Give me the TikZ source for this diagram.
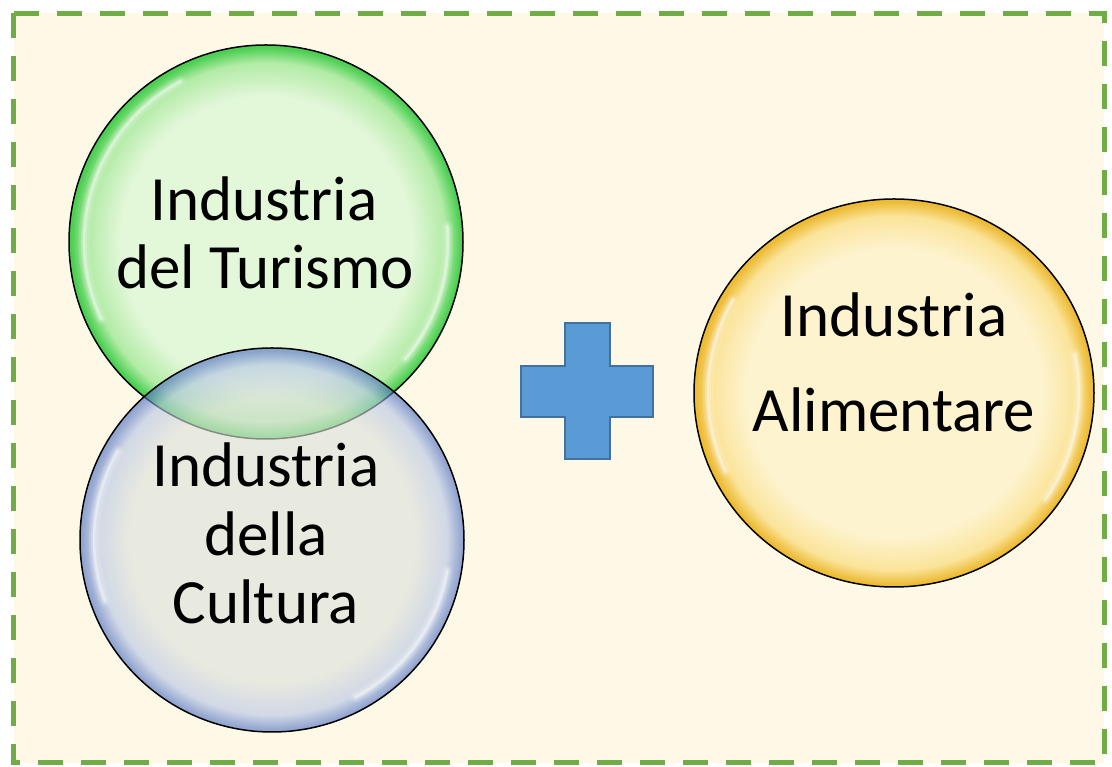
\documentclass[tikz,border=0pt]{standalone}
\usepackage{fontspec}
\setmainfont{Carlito}
\usetikzlibrary{shapes.geometric,calc}

\definecolor{cream}{HTML}{FEF9E7}
\definecolor{framegreen}{HTML}{70AD47}
\definecolor{plusfill}{HTML}{5B9BD5}
\definecolor{plusline}{HTML}{41719C}

\definecolor{gIn}{HTML}{E3F7D9}
\definecolor{gMid}{HTML}{B2EBA6}
\definecolor{gEdge}{HTML}{4CCF52}
\definecolor{bIn}{HTML}{DCE0DB}
\definecolor{bMid}{HTML}{B5C5E6}
\definecolor{bEdge}{HTML}{5172C4}
\definecolor{yIn}{HTML}{FDF3CF}
\definecolor{yMid}{HTML}{FBE49A}
\definecolor{yEdge}{HTML}{EDBB35}

% glassy discs: pale centre, saturated rim (edge of the path sits at 25bp)
\pgfdeclareradialshading{greenglass}{\pgfpoint{0bp}{0bp}}{color(0bp)=(gIn); color(18.5bp)=(gIn); color(22.8bp)=(gMid); color(24.7bp)=(gEdge); color(50bp)=(gEdge)}
\pgfdeclareradialshading{blueglass}{\pgfpoint{0bp}{0bp}}{color(0bp)=(bIn); color(18.5bp)=(bIn); color(22.8bp)=(bMid); color(24.7bp)=(bEdge); color(50bp)=(bEdge)}
\pgfdeclareradialshading{yellowglass}{\pgfpoint{0bp}{0bp}}{color(0bp)=(yIn); color(18.5bp)=(yIn); color(22.8bp)=(yMid); color(24.7bp)=(yEdge); color(50bp)=(yEdge)}

\tikzset{
  x=1pt, y=1pt,
  disc/.style={circle, draw=black, line width=1.5pt, inner sep=0pt},
  oval/.style={ellipse, draw=black, line width=1.5pt, inner sep=0pt},
  label/.style={anchor=base, inner sep=0pt, font=\fontsize{63}{68}\selectfont},
  glosswide/.style={white, line width=11pt, line cap=round, opacity=0.14},
  gloss/.style={white, line width=6pt, line cap=round, opacity=0.22},
  glossthin/.style={white, line width=2.5pt, line cap=round, opacity=0.4},
  plusshape/.style={fill=plusfill, draw=plusline, line width=2.5pt, line join=miter},
  frameline/.style={draw=framegreen, line width=5pt, dash pattern=on 25pt off 18pt, fill=cream}
}

\begin{document}
\begin{tikzpicture}
\useasboundingbox (0,0) rectangle (1112,767);

% dashed frame on a cream ground
\path[frameline] (13.5,753.5) -- (1104,753.5) -- (1104,4) -- (13.5,4) -- cycle;

% green disc
\node[disc, minimum size=394pt, shading=greenglass] (turismo) at (266,525) {};
\foreach \st in {glosswide,gloss,glossthin}{
  \draw[\st] ([shift={(205:182)}]turismo.center) arc (205:118:182);
  \draw[\st] ([shift={(-40:182)}]turismo.center) arc (-40:5:182);
}

% blue disc, partly see-through over the green one
\node[disc, minimum size=384pt, shading=blueglass, fill opacity=0.62] (cultura) at (272,227) {};
\foreach \st in {glosswide,gloss,glossthin}{
  \draw[\st] ([shift={(200:178)}]cultura.center) arc (200:150:178);
  \draw[\st] ([shift={(-10:178)}]cultura.center) arc (-10:-62:178);
}

% yellow disc
\node[oval, minimum width=400pt, minimum height=388pt, shading=yellowglass] (alimentare) at (894,374) {};
\foreach \st in {glosswide,gloss,glossthin}{
  \draw[\st] ([shift={(205:186)}]alimentare.center) arc (205:150:186);
  \draw[\st] ([shift={(-35:185)}]alimentare.center) arc (-35:12:185);
}

% plus sign
\coordinate (plus) at (587,376);
\draw[plusshape] ($(plus)+(-22,68)$) -- ++(45,0) -- ++(0,-43) -- ++(43,0) -- ++(0,-51)
  -- ++(-43,0) -- ++(0,-42) -- ++(-45,0) -- ++(0,42) -- ++(-44,0) -- ++(0,51) -- ++(44,0) -- cycle;

% labels
\node[label] (t1) at (264,546) {Industria};
\node[label] (t2) at (265,478) {del Turismo};
\node[label] (c1) at (266,280) {Industria};
\node[label] (c2) at (266,211) {della};
\node[label] (c3) at (266,143) {Cultura};
\node[label] (a1) at (894,430) {Industria};
\node[label] (a2) at (894,335) {Alimentare};
\end{tikzpicture}
\end{document}
